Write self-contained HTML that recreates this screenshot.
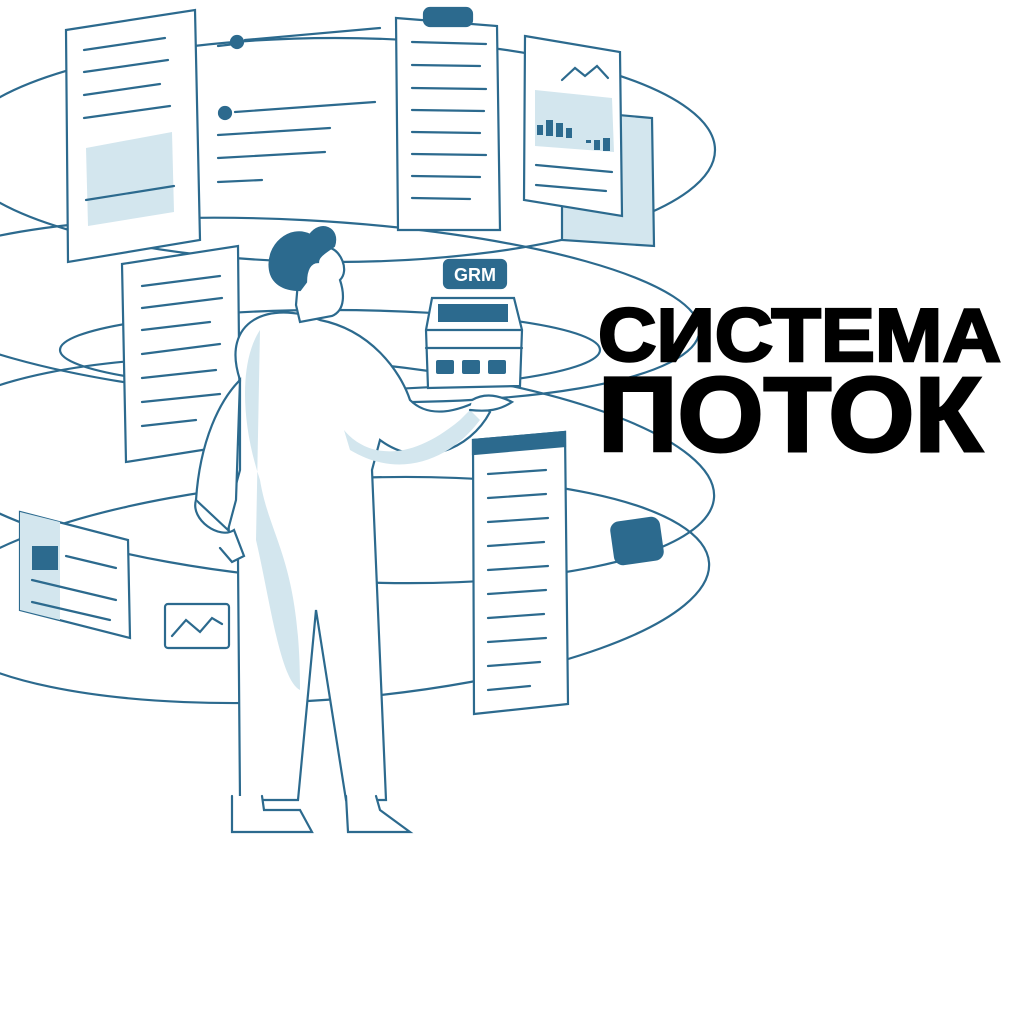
<!DOCTYPE html>
<html><head><meta charset="utf-8"><style>html,body{margin:0;padding:0;background:#fff}svg{display:block}</style></head>
<body>
<svg width="1024" height="1024" viewBox="0 0 1024 1024" xmlns="http://www.w3.org/2000/svg">
<g fill="none" stroke="#2c6a8e" stroke-width="2.2" stroke-linecap="round">
<!-- rings -->
<ellipse cx="335" cy="150" rx="380" ry="112"/>
<ellipse cx="300" cy="310" rx="400" ry="90" transform="rotate(3 300 310)"/>
<ellipse cx="330" cy="350" rx="270" ry="40"/>
<ellipse cx="320" cy="470" rx="395" ry="110" transform="rotate(4 320 470)"/>
<ellipse cx="320" cy="590" rx="390" ry="110" transform="rotate(-4 320 590)"/>
</g>
<g stroke="#2c6a8e" stroke-width="2.2" stroke-linecap="round" fill="#fff">
<!-- doc top-left -->
<path d="M66 30 L195 10 L200 240 L68 262 Z"/>
<path d="M86 148 L172 132 L174 212 L88 226 Z" fill="#d3e6ee" stroke="none"/>
<path d="M86 200 L174 186 M84 50 L165 38 M84 72 L168 60 M84 95 L160 84 M84 118 L170 106" fill="none"/>
<!-- bullet lines -->
<circle cx="237" cy="42" r="6" fill="#2c6a8e"/><circle cx="225" cy="113" r="6" fill="#2c6a8e"/>
<path d="M245 40 L380 28 M218 46 L235 44 M235 112 L375 102 M218 135 L330 128 M218 158 L325 152 M218 182 L262 180" fill="none"/>
<!-- doc top center -->
<path d="M396 18 L497 26 L500 230 L398 230 Z"/>
<rect x="424" y="8" width="48" height="18" rx="6" fill="#2c6a8e"/>
<path d="M412 42 L486 44 M412 65 L480 66 M412 88 L486 89 M412 110 L484 111 M412 132 L480 133 M412 154 L486 155 M412 176 L480 177 M412 198 L470 199" fill="none"/>
<!-- chart doc -->
<path d="M562 110 L652 118 L654 246 L562 240 Z" fill="#d3e6ee"/>
<path d="M525 36 L620 52 L622 216 L524 200 Z"/>
<path d="M535 90 L612 98 L614 152 L535 146 Z" fill="#d3e6ee" stroke="none"/>
<path d="M562 80 L575 68 L585 76 L597 66 L608 78" fill="none"/>
<g fill="#2c6a8e" stroke="none"><rect x="537" y="125" width="6" height="10"/><rect x="546" y="120" width="7" height="16"/><rect x="556" y="123" width="7" height="14"/><rect x="566" y="128" width="6" height="10"/><rect x="586" y="140" width="5" height="3"/><rect x="594" y="140" width="6" height="10"/><rect x="603" y="138" width="7" height="13"/></g>
<path d="M536 165 L612 172 M536 185 L606 191" fill="none"/>
<!-- doc mid-left -->
<path d="M122 264 L238 246 L240 444 L126 462 Z"/>
<path d="M142 286 L220 276 M142 308 L222 298 M142 330 L210 322 M142 354 L220 344 M142 378 L216 370 M142 402 L220 394 M142 426 L196 420" fill="none"/>
<!-- doc right tall -->
<path d="M473 440 L565 432 L568 704 L474 714 Z"/>
<path d="M473 440 L565 432 L565 446 L473 454 Z" fill="#2c6a8e"/>
<path d="M488 474 L546 470 M488 498 L546 494 M488 522 L548 518 M488 546 L544 542 M488 570 L548 566 M488 594 L546 590 M488 618 L544 614 M488 642 L546 638 M488 666 L540 662 M488 690 L530 686" fill="none"/>
<!-- small left doc -->
<path d="M20 512 L128 540 L130 638 L20 610 Z"/>
<path d="M20 512 L60 522 L60 620 L20 610 Z" fill="#d3e6ee" stroke="none"/>
<rect x="32" y="546" width="26" height="24" fill="#2c6a8e" stroke="none"/>
<path d="M32 580 L116 600 M32 602 L110 620 M66 556 L116 568" fill="none"/>
<!-- small chart -->
<rect x="165" y="604" width="64" height="44" rx="3"/>
<path d="M172 636 L186 620 L200 632 L212 618 L222 624" fill="none"/>
<!-- blue badge right -->
<rect x="613" y="520" width="48" height="42" rx="8" fill="#2c6a8e" transform="rotate(-8 637 541)"/>
<!-- person -->
<path d="M240 380 C220 320 270 300 320 320 C370 330 400 370 410 400 C430 420 460 410 480 400 L490 412 C470 450 420 470 380 440 L372 470 L386 800 L346 800 L316 610 L298 800 L240 800 L238 560 C220 530 232 500 240 470 Z"/>
<path d="M240 380 C220 400 200 440 196 500 L228 530 L236 500 Z"/>
<path d="M260 330 C240 360 240 420 260 480 C270 540 300 560 300 690 C280 680 270 600 256 540 Z" fill="#d3e6ee" stroke="none"/>
<path d="M344 430 C360 450 400 470 460 420 L470 410 L480 420 C450 460 400 480 350 450 Z" fill="#d3e6ee" stroke="none"/>
<path d="M196 500 C190 520 220 540 234 530 L244 556 L232 562 L220 548" fill="#fff"/>
<path d="M232 796 L232 832 L312 832 L300 810 L264 810 L262 796 M346 796 L348 832 L410 832 L380 810 L376 796" fill="#fff"/>
<path d="M296 305 L300 322 L332 316 C346 310 344 292 340 280 C350 270 340 250 330 248 L300 258 Z"/>
<path d="M270 270 C266 245 290 225 310 235 C320 220 340 228 334 246 C326 252 318 256 318 262 C310 262 306 270 306 282 L300 290 C282 290 272 282 270 270 Z" fill="#2c6a8e"/>
<path d="M472 400 C486 392 500 396 512 402 C500 410 488 412 470 410" fill="#fff"/>
<!-- GRM device -->
<rect x="444" y="260" width="62" height="28" rx="5" fill="#2c6a8e"/>
<text x="475" y="281" font-family="Liberation Sans, sans-serif" font-weight="bold" font-size="18" fill="#fff" stroke="none" text-anchor="middle">GRM</text>
<path d="M432 298 L514 298 L522 330 L520 386 L428 388 L426 330 Z"/>
<rect x="438" y="304" width="70" height="18" fill="#2c6a8e" stroke="none"/>
<path d="M426 330 L522 330 M426 348 L522 348" fill="none"/>
<g fill="#2c6a8e" stroke="none"><rect x="436" y="360" width="18" height="14" rx="2"/><rect x="462" y="360" width="18" height="14" rx="2"/><rect x="488" y="360" width="18" height="14" rx="2"/></g>
</g>
<text x="598" y="361" font-family="Liberation Sans, sans-serif" font-weight="bold" font-size="75" textLength="403" lengthAdjust="spacingAndGlyphs" fill="#000" stroke="#000" stroke-width="2.5">СИСТЕМА</text>
<text x="598" y="451" font-family="Liberation Sans, sans-serif" font-weight="bold" font-size="106" textLength="384" lengthAdjust="spacingAndGlyphs" fill="#000" stroke="#000" stroke-width="3">ПОТОК</text>
</svg>
</body></html>
